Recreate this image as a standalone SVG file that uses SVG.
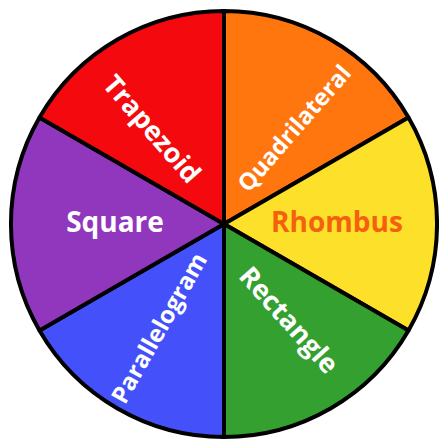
<svg xmlns="http://www.w3.org/2000/svg" width="439" height="440" viewBox="0 0 439 440">
<style>
.seg{stroke:#000;stroke-width:4;stroke-linejoin:round}
.lbl{font-family:"Open Sans","Liberation Sans",sans-serif;font-weight:bold;font-size:28px;fill:#fff;text-anchor:middle}
</style>
<rect width="439" height="440" fill="#fff"/>
<g id="wheel">
<g id="seg-quadrilateral"><path class="seg" fill="#FF750E" d="M224,224 L224,11 A213,213 0 0 1 408.5,117.5 Z"/></g>
<g id="seg-rhombus"><path class="seg" fill="#FDE02A" d="M224,224 L408.5,117.5 A213,213 0 0 1 408.5,330.5 Z"/></g>
<g id="seg-rectangle"><path class="seg" fill="#33A02F" d="M224,224 L408.5,330.5 A213,213 0 0 1 224,437 Z"/></g>
<g id="seg-parallelogram"><path class="seg" fill="#4451FB" d="M224,224 L224,437 A213,213 0 0 1 39.5,330.5 Z"/></g>
<g id="seg-square"><path class="seg" fill="#9037BE" d="M224,224 L39.5,330.5 A213,213 0 0 1 39.5,117.5 Z"/></g>
<g id="seg-trapezoid"><path class="seg" fill="#F40A0E" d="M224,224 L39.5,117.5 A213,213 0 0 1 224,11 Z"/></g>
</g>
<g id="labels">
<text class="lbl" x="115" y="232">Square</text>
<text class="lbl" x="337" y="232" style="fill:#F4600E">Rhombus</text>
<text class="lbl" transform="rotate(49 152 129)" x="152" y="138.5" style="font-size:27px">Trapezoid</text>
<text class="lbl" transform="rotate(-49 294 128)" x="294" y="136.5" style="font-size:23.5px">Quadrilateral</text>
<text class="lbl" transform="rotate(48 289 320)" x="289" y="329.5" style="font-size:27px">Rectangle</text>
<text class="lbl" transform="rotate(-60.5 159 328)" x="159" y="336.5" style="font-size:24px">Parallelogram</text>
</g>
</svg>
